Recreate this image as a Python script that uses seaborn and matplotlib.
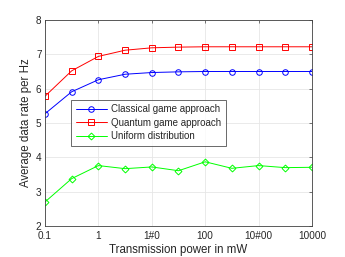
import numpy as np
import pandas as pd
import matplotlib
matplotlib.use('Agg')
import matplotlib.pyplot as plt
import seaborn as sns
from matplotlib.ticker import FixedLocator, FixedFormatter, NullLocator

power = [0.1, 0.316, 1, 3.16, 10, 31.6, 100, 316, 1000, 3162, 10000]
classical = [5.27, 5.91, 6.26, 6.42, 6.47, 6.49, 6.50, 6.50, 6.50, 6.50, 6.50]
quantum = [5.78, 6.52, 6.94, 7.12, 7.19, 7.21, 7.22, 7.22, 7.22, 7.22, 7.22]
uniform = [2.70, 3.38, 3.76, 3.67, 3.72, 3.61, 3.87, 3.68, 3.76, 3.70, 3.71]
names = ['Classical game approach', 'Quantum game approach', 'Uniform distribution']
xtick_vals = [0.1, 1, 10, 100, 1000, 10000]
xtick_labels = ['0.1', '1', '1#0', '100', '10#00', '10000']

sns.set_style('white')
plt.rcParams['font.family'] = ['Liberation Sans', 'DejaVu Sans']

df = pd.DataFrame({
    'power': power * 3,
    'rate': classical + quantum + uniform,
    'method': [names[0]] * 11 + [names[1]] * 11 + [names[2]] * 11,
})

fig = plt.figure(figsize=(3.45, 2.57), dpi=100)
ax = fig.add_axes([45 / 345, 1 - 226 / 257, 267 / 345, 206 / 257])

colors = ['#0000ff', '#ff0000', '#00ff00']
markers = ['o', 's', 'D']
for name, c, m in zip(names, colors, markers):
    sub = df[df['method'] == name]
    sns.lineplot(data=sub, x='power', y='rate', ax=ax, color=c, marker=m,
                 markersize=4 if m != 'D' else 3.5, markerfacecolor='none',
                 markeredgecolor=c, markeredgewidth=0.7, linewidth=0.7,
                 label=name)

ax.set_xscale('log')
ax.set_xlim(0.1, 10000)
ax.set_ylim(2, 8)
ax.xaxis.set_major_locator(FixedLocator(xtick_vals))
ax.xaxis.set_major_formatter(FixedFormatter(xtick_labels))
ax.xaxis.set_minor_locator(NullLocator())
ax.set_yticks([2, 3, 4, 5, 6, 7, 8])
ax.grid(True, color='#e6e6e6', linewidth=0.6)
ax.set_axisbelow(True)
for s in ax.spines.values():
    s.set_color('#404040')
    s.set_linewidth(0.6)
ax.tick_params(direction='in', length=2.5, width=0.5, labelsize=7.2,
               colors='#404040', labelcolor='#262626', top=True, right=True)
ax.tick_params(axis='x', pad=3.5)
ax.tick_params(axis='y', pad=2.5)
ax.set_xlabel('Transmission power in mW', fontsize=8.3, color='#262626', labelpad=2)
ax.set_ylabel('Average data rate per Hz', fontsize=8.3, color='#262626', labelpad=3)

leg = ax.legend(loc='lower left', bbox_to_anchor=(0.097, 0.388), fontsize=7,
                frameon=True, fancybox=False, edgecolor='#262626',
                handlelength=3.2, borderaxespad=0, borderpad=0.5,
                labelspacing=0.35, handletextpad=0.4)
leg.get_frame().set_linewidth(0.6)

fig.savefig('out.png', dpi=100)
